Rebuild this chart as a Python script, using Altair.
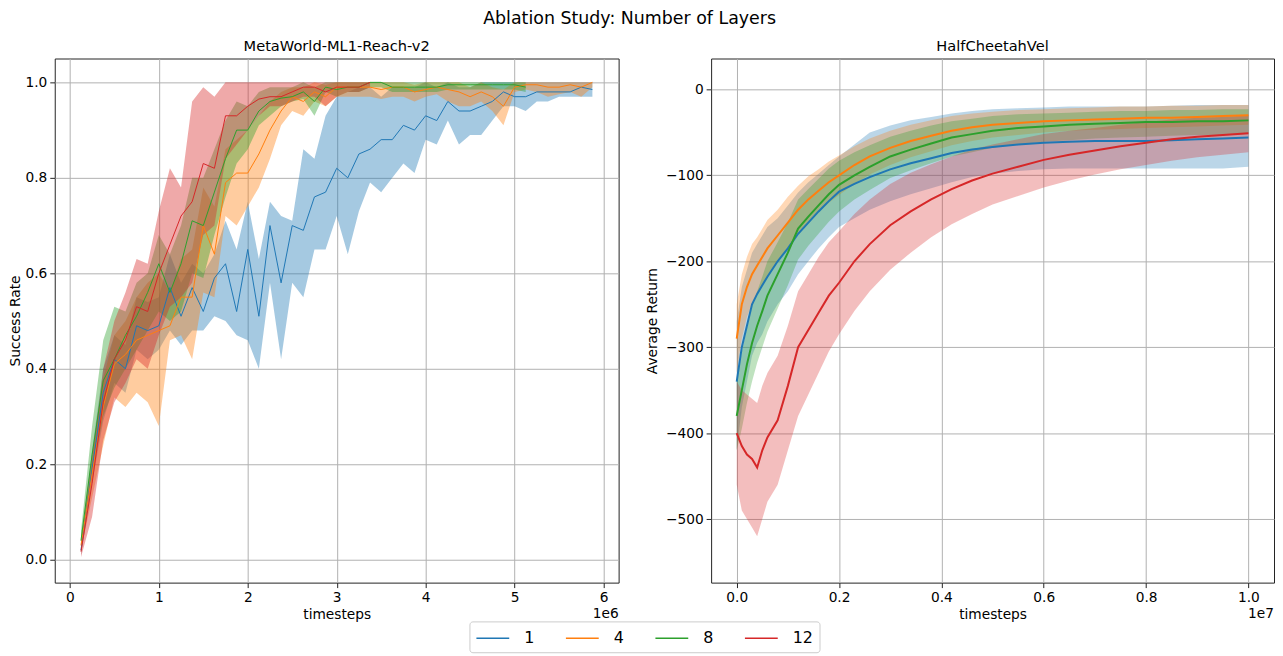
import altair as alt
import pandas as pd

FONT = "DejaVu Sans"
SERIES = ["1", "4", "8", "12"]
COLORS = ["#1f77b4", "#ff7f0e", "#2ca02c", "#d62728"]

# ---------------- Left panel: MetaWorld-ML1-Reach-v2 (timesteps in 1e6) ----------------
L_STEPS = [0.125, 0.25, 0.375, 0.5, 0.625, 0.75, 0.875, 1.0, 1.125, 1.25,
           1.375, 1.5, 1.625, 1.75, 1.875, 2.0, 2.125, 2.25, 2.375, 2.5,
           2.625, 2.75, 2.875, 3.0, 3.125, 3.25, 3.375, 3.5, 3.625, 3.75,
           3.875, 4.0, 4.125, 4.25, 4.375, 4.5, 4.625, 4.75, 4.875, 5.0,
           5.125, 5.25, 5.375, 5.5, 5.625, 5.75, 5.875]

L_MEAN_1 = [0.02, 0.19, 0.35, 0.42, 0.40, 0.49, 0.48, 0.49, 0.57, 0.51,
            0.57, 0.52, 0.59, 0.62, 0.52, 0.65, 0.51, 0.70, 0.58, 0.70,
            0.69, 0.76, 0.77, 0.82, 0.80, 0.85, 0.86, 0.88, 0.88, 0.91,
            0.90, 0.93, 0.92, 0.96, 0.94, 0.94, 0.95, 0.96, 0.98, 0.97,
            0.97, 0.98, 0.98, 0.98, 0.98, 0.99, 0.985]
L_LO_1 = [0.01, 0.16, 0.29, 0.37, 0.35, 0.44, 0.42, 0.44, 0.48, 0.45,
          0.48, 0.48, 0.51, 0.50, 0.47, 0.46, 0.40, 0.58, 0.42, 0.58,
          0.55, 0.65, 0.65, 0.72, 0.64, 0.73, 0.79, 0.77, 0.80, 0.83,
          0.81, 0.88, 0.87, 0.92, 0.87, 0.89, 0.89, 0.92, 0.95, 0.95,
          0.94, 0.96, 0.96, 0.97, 0.97, 0.97, 0.97]
L_HI_1 = [0.03, 0.23, 0.40, 0.47, 0.45, 0.55, 0.54, 0.55, 0.64, 0.58,
          0.62, 0.60, 0.64, 0.71, 0.65, 0.75, 0.63, 0.75, 0.72, 0.71,
          0.86, 0.84, 0.93, 0.97, 0.98, 0.99, 0.99, 0.97, 0.99, 0.99,
          0.99, 1.0, 0.99, 1.0, 0.99, 0.99, 1.0, 1.0, 1.0, 1.0,
          1.0, 1.0, 1.0, 1.0, 1.0, 1.0, 1.0]

L_MEAN_4 = [0.03, 0.18, 0.32, 0.41, 0.43, 0.46, 0.47, 0.48, 0.49, 0.55,
            0.55, 0.70, 0.64, 0.79, 0.81, 0.81, 0.85, 0.90, 0.94, 0.97,
            0.96, 0.98, 0.97, 0.99, 0.99, 0.99, 0.99, 0.985, 0.99, 0.99,
            0.98, 0.985, 0.99, 0.985, 0.98, 0.97, 0.98, 0.97, 0.95, 0.99,
            0.995, 0.995, 0.99, 0.99, 0.995, 0.99, 1.0]
L_LO_4 = [0.02, 0.13, 0.24, 0.34, 0.32, 0.35, 0.33, 0.28, 0.46, 0.47,
          0.42, 0.56, 0.55, 0.72, 0.70, 0.74, 0.78, 0.84, 0.91, 0.94,
          0.93, 0.96, 0.95, 0.97, 0.97, 0.97, 0.97, 0.965, 0.97, 0.97,
          0.96, 0.97, 0.975, 0.96, 0.95, 0.95, 0.96, 0.94, 0.91, 0.98,
          0.985, 0.98, 0.97, 0.975, 0.98, 0.97, 0.99]
L_HI_4 = [0.04, 0.22, 0.38, 0.47, 0.50, 0.55, 0.58, 0.60, 0.56, 0.63,
          0.65, 0.78, 0.74, 0.86, 0.88, 0.90, 0.93, 0.96, 0.98, 0.99,
          0.99, 1.0, 0.995, 1.0, 1.0, 1.0, 1.0, 1.0, 1.0, 1.0,
          0.995, 1.0, 1.0, 1.0, 1.0, 0.99, 1.0, 0.99, 0.985, 1.0,
          1.0, 1.0, 1.0, 1.0, 1.0, 1.0, 1.0]

L_MEAN_8 = [0.04, 0.22, 0.375, 0.42, 0.47, 0.51, 0.56, 0.62, 0.56, 0.62,
            0.71, 0.70, 0.77, 0.84, 0.90, 0.90, 0.94, 0.96, 0.967, 0.97,
            0.98, 0.96, 0.99, 0.985, 0.99, 0.99, 1.0, 1.0, 0.99, 0.99,
            0.99, 0.99, 0.99, 0.995, 0.995, 0.995, 0.995, 0.995, 0.995, 0.995,
            0.99]
L_LO_8 = [0.02, 0.18, 0.30, 0.36, 0.40, 0.44, 0.48, 0.52, 0.50, 0.52,
          0.60, 0.59, 0.68, 0.76, 0.83, 0.86, 0.91, 0.93, 0.95, 0.96,
          0.965, 0.93, 0.98, 0.97, 0.98, 0.98, 0.99, 0.99, 0.98, 0.98,
          0.98, 0.98, 0.98, 0.985, 0.985, 0.985, 0.985, 0.985, 0.985, 0.985,
          0.98]
L_HI_8 = [0.06, 0.28, 0.46, 0.53, 0.52, 0.58, 0.60, 0.68, 0.64, 0.70,
          0.80, 0.80, 0.86, 0.92, 0.96, 0.95, 0.98, 0.99, 0.99, 0.99,
          1.0, 0.99, 1.0, 1.0, 1.0, 1.0, 1.0, 1.0, 1.0, 1.0,
          1.0, 1.0, 1.0, 1.0, 1.0, 1.0, 1.0, 1.0, 1.0, 1.0,
          1.0]

L_MEAN_12 = [0.017, 0.16, 0.33, 0.42, 0.46, 0.53, 0.52, 0.60, 0.66, 0.72,
             0.75, 0.83, 0.82, 0.93, 0.93, 0.95, 0.965, 0.97, 0.97, 0.98,
             0.99, 0.99, 0.98, 0.99, 0.99, 0.99, 1.0]
L_LO_12 = [0.005, 0.09, 0.25, 0.33, 0.37, 0.42, 0.40, 0.47, 0.53, 0.55,
           0.58, 0.68, 0.70, 0.84, 0.87, 0.90, 0.93, 0.95, 0.95, 0.96,
           0.97, 0.97, 0.95, 0.97, 0.98, 0.98, 0.99]
L_HI_12 = [0.03, 0.21, 0.40, 0.50, 0.56, 0.63, 0.62, 0.73, 0.82, 0.78,
           0.96, 0.99, 0.97, 1.0, 1.0, 1.0, 1.0, 1.0, 1.0, 1.0,
           1.0, 1.0, 1.0, 1.0, 1.0, 1.0, 1.0]

# ---------------- Right panel: HalfCheetahVel (timesteps in 1e7) ----------------
R_STEPS = [0.0, 0.01, 0.02, 0.03, 0.04, 0.05, 0.06, 0.08, 0.10, 0.12,
           0.14, 0.16, 0.18, 0.20, 0.23, 0.26, 0.30, 0.34, 0.38, 0.42,
           0.46, 0.50, 0.55, 0.60, 0.65, 0.70, 0.75, 0.80, 0.85, 0.90,
           0.95, 1.00]

R_MEAN_1 = [-340, -300, -275, -250, -238, -228, -218, -200, -185, -168,
            -155, -142, -130, -119, -110, -102, -93, -86, -80, -74,
            -70, -67, -64, -62, -61, -60, -60, -60, -59, -58,
            -57, -56]
R_LO_1 = [-420, -370, -340, -310, -295, -285, -270, -250, -235, -215,
          -200, -185, -172, -160, -150, -140, -130, -122, -115, -108,
          -102, -98, -95, -93, -92, -92, -92, -92, -92, -92,
          -92, -90]
R_HI_1 = [-270, -230, -210, -190, -180, -170, -160, -150, -135, -120,
          -108, -98, -88, -78, -64, -50, -42, -36, -32, -28,
          -25, -23, -22, -21, -20, -20, -20, -20, -19, -18,
          -18, -18]

R_MEAN_4 = [-290, -250, -230, -215, -205, -195, -185, -170, -155, -140,
            -128, -118, -108, -100, -88, -78, -68, -60, -54, -48,
            -44, -41, -39, -37, -36, -35, -34, -33, -33, -32,
            -31, -30]
R_LO_4 = [-330, -290, -265, -250, -238, -228, -218, -200, -185, -168,
          -155, -143, -132, -123, -110, -99, -88, -79, -72, -65,
          -60, -56, -53, -50, -48, -47, -46, -45, -44, -43,
          -42, -41]
R_HI_4 = [-250, -215, -195, -180, -172, -162, -152, -140, -125, -112,
          -101, -93, -84, -77, -66, -57, -48, -41, -36, -31,
          -28, -26, -24, -23, -22, -21, -20, -20, -19, -19,
          -18, -18]

R_MEAN_8 = [-380, -350, -320, -295, -275, -258, -240, -215, -190, -162,
            -148, -135, -122, -111, -100, -90, -78, -70, -63, -56,
            -52, -48, -45, -43, -41, -40, -39, -38, -38, -37,
            -37, -36]
R_LO_8 = [-420, -395, -365, -340, -318, -300, -282, -255, -228, -198,
          -182, -168, -154, -142, -128, -117, -103, -94, -86, -78,
          -73, -68, -64, -61, -59, -57, -56, -55, -54, -53,
          -53, -52]
R_HI_8 = [-340, -305, -278, -252, -235, -218, -200, -178, -155, -128,
          -116, -104, -92, -83, -73, -65, -55, -48, -42, -37,
          -34, -31, -29, -28, -27, -26, -25, -25, -24, -24,
          -23, -23]

R_MEAN_12 = [-400, -415, -425, -430, -440, -420, -405, -385, -345, -300,
             -280, -260, -240, -225, -200, -180, -158, -142, -128, -116,
             -106, -98, -90, -82, -76, -71, -66, -62, -58, -55,
             -53, -51]
R_LO_12 = [-460, -490, -500, -510, -520, -500, -480, -460, -420, -380,
           -355, -330, -305, -285, -258, -235, -210, -190, -172, -157,
           -145, -134, -124, -114, -106, -99, -93, -88, -83, -79,
           -76, -73]
R_HI_12 = [-340, -350, -355, -360, -365, -345, -330, -310, -275, -235,
           -215, -195, -178, -165, -145, -128, -110, -97, -87, -78,
           -70, -64, -58, -52, -48, -45, -41, -38, -35, -33,
           -32, -30]


def build(steps, groups):
    rows = []
    for name, (mean, lo, hi) in zip(SERIES, groups):
        for i in range(len(mean)):
            rows.append({"t": steps[i], "mean": mean[i], "lo": lo[i], "hi": hi[i],
                         "series": name, "band": "b" + name,
                         "order": SERIES.index(name)})
    return pd.DataFrame(rows)


left_df = build(L_STEPS, [(L_MEAN_1, L_LO_1, L_HI_1), (L_MEAN_4, L_LO_4, L_HI_4),
                          (L_MEAN_8, L_LO_8, L_HI_8), (L_MEAN_12, L_LO_12, L_HI_12)])
right_df = build(R_STEPS, [(R_MEAN_1, R_LO_1, R_HI_1), (R_MEAN_4, R_LO_4, R_HI_4),
                           (R_MEAN_8, R_LO_8, R_HI_8), (R_MEAN_12, R_LO_12, R_HI_12)])

W_L, W_R, H = 567, 566, 527
FS = 13.8

axis_common = dict(grid=True, gridColor="#b0b0b0", gridWidth=1, domain=False,
                   tickColor="#222", tickSize=5, tickWidth=1,
                   labelFont=FONT, labelFontSize=FS, labelColor="#000",
                   titleFont=FONT, titleFontSize=FS, titleFontWeight="normal",
                   titleColor="#000")


def panel(df, title, xdom, xvals, xfmt, ydom, yvals, yfmt, ytitle, ytp, width,
          opacity, sw, offset_label):
    x = alt.X("t:Q", scale=alt.Scale(domain=xdom, nice=False, zero=False),
              axis=alt.Axis(values=xvals, format=xfmt, title="timesteps",
                            labelPadding=3, titlePadding=3, **axis_common))
    fill = alt.Fill("band:N", scale=alt.Scale(domain=["b" + s for s in SERIES], range=COLORS),
                    legend=None)
    color = alt.Color("series:N", scale=alt.Scale(domain=SERIES, range=COLORS),
                      legend=alt.Legend(title=None))
    band = alt.Chart(df).mark_area(opacity=opacity, clip=True, interpolate="linear").encode(
        x=x,
        y=alt.Y("lo:Q", scale=alt.Scale(domain=ydom, nice=False, zero=False),
                axis=alt.Axis(values=yvals, format=yfmt, title=ytitle,
                              labelPadding=3, titlePadding=ytp, **axis_common)),
        y2="hi:Q",
        fill=fill,
        order="order:Q",
    )
    line = alt.Chart(df).mark_line(strokeWidth=sw, clip=True).encode(
        x="t:Q",
        y="mean:Q",
        color=color,
        order="t:Q",
    )
    off = alt.Chart(pd.DataFrame({"lbl": [offset_label]})).mark_text(
        align="right", baseline="middle", font=FONT, fontSize=FS, color="#000"
    ).encode(text="lbl:N", x=alt.value(width), y=alt.value(H + 32))
    return alt.layer(band, line, off).properties(
        width=width, height=H,
        title=alt.TitleParams(title, font=FONT, fontSize=14.7, fontWeight="normal",
                              color="#000", offset=5, anchor="middle"))


left = panel(left_df, "MetaWorld-ML1-Reach-v2", [-0.17, 6.17], [0, 1, 2, 3, 4, 5, 6], "d",
             [-0.048, 1.05], [0.0, 0.2, 0.4, 0.6, 0.8, 1.0], ".1f", "Success Rate", 2,
             W_L, 0.4, 1.0, "1e6")
right = panel(right_df, "HalfCheetahVel", [-0.05, 1.05], [0.0, 0.2, 0.4, 0.6, 0.8, 1.0], ".1f",
              [-574, 36], [-500, -400, -300, -200, -100, 0], "d", "Average Return", 6,
              W_R, 0.3, 2.0, "1e7")

chart = alt.hconcat(left, right, spacing=93, bounds="flush").properties(
    title=alt.TitleParams("Ablation Study: Number of Layers", font=FONT, fontSize=17.5,
                          fontWeight="normal", color="#000", anchor="middle",
                          offset=7, dx=-12, dy=-4),
    padding={"left": 0, "right": 0, "top": 0, "bottom": 0},
).configure_view(
    stroke="#222", strokeWidth=1
).configure_legend(
    orient="none", legendX=417, legendY=566, direction="horizontal", columns=4,
    symbolType="M-1,0H2.3", symbolSize=400, symbolStrokeWidth=1.5,
    labelFont=FONT, labelFontSize=16, labelColor="#000", labelOffset=27,
    columnPadding=28, gridAlign="each",
    strokeColor="#cccccc", fillColor="#ffffff", cornerRadius=3, padding=6,
)

chart.save("out.html", embed_options={"renderer": "svg", "actions": False})
